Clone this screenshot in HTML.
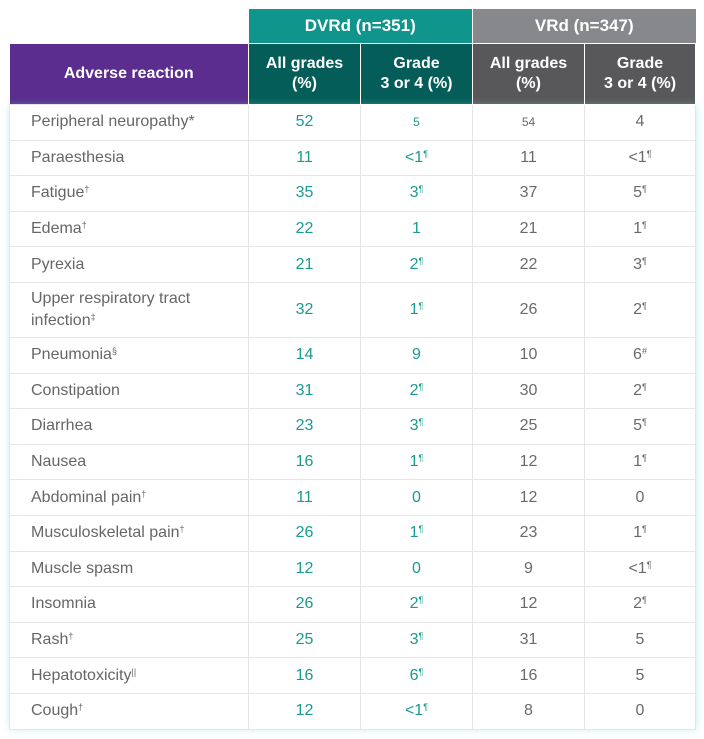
<!DOCTYPE html>
<html><head><meta charset="utf-8"><style>
body{margin:0;background:#fff;width:704px;height:739px;overflow:hidden;font-family:"Liberation Sans",sans-serif}
.wrap{position:absolute;left:9px;top:9px;width:686px}
table{border-collapse:collapse;table-layout:fixed;width:686px}
td,th{padding:0;text-align:center;font-weight:normal}
.h1 th{height:34px;color:#fff;font-weight:bold;font-size:17px}
.h2 th{height:60px;color:#fff;font-weight:bold;font-size:16px;line-height:20px}
tbody td{border:1px solid #e6e6e6;height:34.6px;font-size:16px;color:#6a6a6a}
tbody td:first-child{text-align:left;padding-left:21px;color:#666}
td.t{color:#1a9a90}
sup{font-size:9px;vertical-align:5px}
</style></head><body>
<div class="wrap">
<table>
<colgroup><col style="width:239px"><col style="width:112px"><col style="width:112px"><col style="width:112px"><col style="width:111px"></colgroup>
<thead>
<tr class="h1"><th style="background:#fff"></th><th colspan="2" style="background:#0f958c;border-right:1px solid #fff">DVRd (n=351)</th><th colspan="2" style="background:#87888b">VRd (n=347)</th></tr>
<tr class="h2"><th style="background:#5b2d8e;border-top:1px solid #fff">Adverse reaction</th><th style="background:#045d58;border:1px solid #fff">All grades<br>(%)</th><th style="background:#045d58;border:1px solid #fff">Grade<br>3 or 4 (%)</th><th style="background:#58585a;border:1px solid #fff">All grades<br>(%)</th><th style="background:#58585a;border:1px solid #fff">Grade<br>3 or 4 (%)</th></tr>
</thead>
<tbody style="box-shadow:0 0 8px rgba(120,210,210,.45)">
<tr><td>Peripheral neuropathy*</td><td class="t">52</td><td class="t" style="font-size:12px">5</td><td style="font-size:12px">54</td><td>4</td></tr>
<tr><td>Paraesthesia</td><td class="t">11</td><td class="t">&lt;1<sup>¶</sup></td><td>11</td><td>&lt;1<sup>¶</sup></td></tr>
<tr><td>Fatigue<sup>†</sup></td><td class="t">35</td><td class="t">3<sup>¶</sup></td><td>37</td><td>5<sup>¶</sup></td></tr>
<tr><td>Edema<sup>†</sup></td><td class="t">22</td><td class="t">1</td><td>21</td><td>1<sup>¶</sup></td></tr>
<tr><td>Pyrexia</td><td class="t">21</td><td class="t">2<sup>¶</sup></td><td>22</td><td>3<sup>¶</sup></td></tr>
<tr><td style="height:54px;line-height:19px">Upper respiratory tract<br>infection<sup>‡</sup></td><td class="t">32</td><td class="t">1<sup>¶</sup></td><td>26</td><td>2<sup>¶</sup></td></tr>
<tr><td>Pneumonia<sup>§</sup></td><td class="t">14</td><td class="t">9</td><td>10</td><td>6<sup>#</sup></td></tr>
<tr><td>Constipation</td><td class="t">31</td><td class="t">2<sup>¶</sup></td><td>30</td><td>2<sup>¶</sup></td></tr>
<tr><td>Diarrhea</td><td class="t">23</td><td class="t">3<sup>¶</sup></td><td>25</td><td>5<sup>¶</sup></td></tr>
<tr><td>Nausea</td><td class="t">16</td><td class="t">1<sup>¶</sup></td><td>12</td><td>1<sup>¶</sup></td></tr>
<tr><td>Abdominal pain<sup>†</sup></td><td class="t">11</td><td class="t">0</td><td>12</td><td>0</td></tr>
<tr><td>Musculoskeletal pain<sup>†</sup></td><td class="t">26</td><td class="t">1<sup>¶</sup></td><td>23</td><td>1<sup>¶</sup></td></tr>
<tr><td>Muscle spasm</td><td class="t">12</td><td class="t">0</td><td>9</td><td>&lt;1<sup>¶</sup></td></tr>
<tr><td>Insomnia</td><td class="t">26</td><td class="t">2<sup>¶</sup></td><td>12</td><td>2<sup>¶</sup></td></tr>
<tr><td>Rash<sup>†</sup></td><td class="t">25</td><td class="t">3<sup>¶</sup></td><td>31</td><td>5</td></tr>
<tr><td>Hepatotoxicity<sup>||</sup></td><td class="t">16</td><td class="t">6<sup>¶</sup></td><td>16</td><td>5</td></tr>
<tr><td>Cough<sup>†</sup></td><td class="t">12</td><td class="t">&lt;1<sup>¶</sup></td><td>8</td><td>0</td></tr>
</tbody>
</table>
</div>
</body></html>
